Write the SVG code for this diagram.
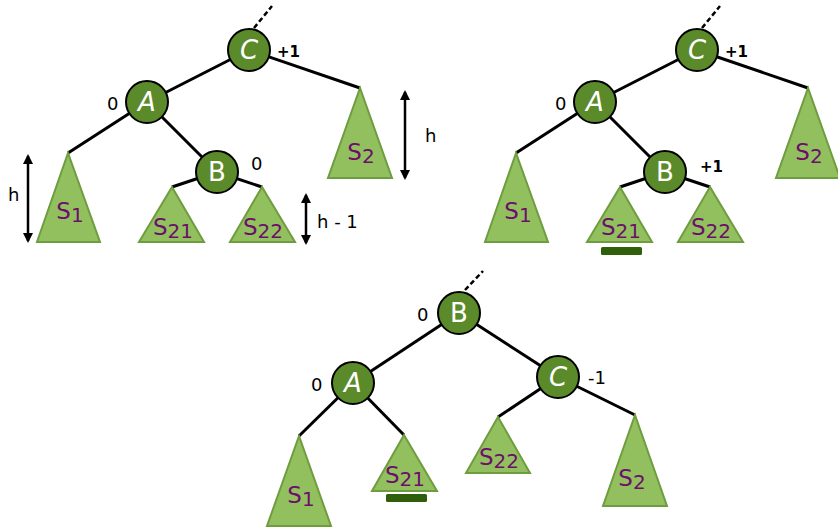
<svg xmlns="http://www.w3.org/2000/svg" width="838" height="527" viewBox="0 0 838 527">
<defs>
<marker id="ah" viewBox="0 0 10 10" refX="8" refY="5" markerWidth="4" markerHeight="4" orient="auto-start-reverse"><path d="M0,0 L10,5 L0,10 z" fill="#000"/></marker>
<style>
.e{stroke:#000;stroke-width:3;fill:none}
.d{stroke:#000;stroke-width:2.5;stroke-dasharray:5,3;fill:none}
.n circle{fill:#5b8a2b;stroke:#000;stroke-width:2}
.n text{fill:#fff;font-family:"DejaVu Sans",sans-serif;font-size:26px;font-style:italic;text-anchor:middle}
.n text.up{font-style:normal}
.t polygon{fill:#93c05e;stroke:#6f9c3f;stroke-width:2}
.t text{fill:#6b0f6b;font-family:"DejaVu Sans",sans-serif;font-size:23px;text-anchor:middle}
.bal{font-family:"DejaVu Sans",sans-serif;font-size:18px;fill:#000}
.bb{font-family:"DejaVu Sans",sans-serif;font-size:15px;font-weight:bold;fill:#000}
.ar{stroke:#000;stroke-width:2.5;marker-start:url(#ah);marker-end:url(#ah)}
.bar{fill:#2f5f0a}
</style>
</defs>
<rect width="838" height="527" fill="#fff"/>
<g id="connectors">
<line class="d" x1="254" y1="28" x2="272" y2="6"/>
<line class="e" x1="249" y1="50" x2="147" y2="102"/>
<line class="e" x1="249" y1="50" x2="360" y2="88"/>
<line class="e" x1="147" y1="102" x2="68" y2="153"/>
<line class="e" x1="147" y1="102" x2="217" y2="172"/>
<line class="e" x1="217" y1="172" x2="172" y2="187"/>
<line class="e" x1="217" y1="172" x2="262" y2="187"/>
<line class="d" x1="702" y1="28" x2="720" y2="6"/>
<line class="e" x1="697" y1="50" x2="595" y2="102"/>
<line class="e" x1="697" y1="50" x2="808" y2="88"/>
<line class="e" x1="595" y1="102" x2="516" y2="153"/>
<line class="e" x1="595" y1="102" x2="665" y2="172"/>
<line class="e" x1="665" y1="172" x2="620" y2="187"/>
<line class="e" x1="665" y1="172" x2="710" y2="187"/>
<line class="d" x1="465" y1="290" x2="483" y2="271"/>
<line class="e" x1="459" y1="313" x2="353" y2="383"/>
<line class="e" x1="459" y1="313" x2="558" y2="377"/>
<line class="e" x1="353" y1="383" x2="299" y2="436"/>
<line class="e" x1="353" y1="383" x2="404" y2="435"/>
<line class="e" x1="558" y1="377" x2="498" y2="417"/>
<line class="e" x1="558" y1="377" x2="635" y2="415"/>
</g>
<g id="tri-S1-a" class="t"><polygon points="68,153 37,242 100,242"/><text x="70" y="219">S<tspan dy="3" font-size="20">1</tspan></text></g>
<g id="tri-S2-a" class="t"><polygon points="360,88 328,178 392,178"/><text x="361" y="160">S<tspan dy="3" font-size="20">2</tspan></text></g>
<g id="tri-S21-a" class="t"><polygon points="172,187 139,242 204,242"/><text x="173" y="235">S<tspan dy="3" font-size="20">21</tspan></text></g>
<g id="tri-S22-a" class="t"><polygon points="262,187 230,242 295,242"/><text x="263" y="235">S<tspan dy="3" font-size="20">22</tspan></text></g>
<g id="node-C-a" class="n"><circle cx="249" cy="50" r="21"/><text x="249" y="59">C</text></g>
<g id="node-A-a" class="n"><circle cx="147" cy="102" r="21"/><text x="147" y="111">A</text></g>
<g id="node-B-a" class="n"><circle cx="217" cy="172" r="21"/><text class="up" x="217" y="181">B</text></g>
<text class="bb" x="277" y="57">+1</text>
<text class="bal" x="107" y="110">0</text>
<text class="bal" x="251" y="170">0</text>
<line class="ar" x1="28" y1="156" x2="28" y2="241"/>
<text class="bal" x="8" y="201">h</text>
<line class="ar" x1="405" y1="92" x2="405" y2="178"/>
<text class="bal" x="425" y="142">h</text>
<line class="ar" x1="306" y1="195" x2="306" y2="243"/>
<text class="bal" x="317" y="228">h - 1</text>

<g id="tri-S1-b" class="t"><polygon points="516,153 485,242 548,242"/><text x="518" y="219">S<tspan dy="3" font-size="20">1</tspan></text></g>
<g id="tri-S2-b" class="t"><polygon points="808,88 776,178 840,178"/><text x="809" y="160">S<tspan dy="3" font-size="20">2</tspan></text></g>
<g id="tri-S21-b" class="t"><polygon points="620,187 587,242 652,242"/><text x="621" y="235">S<tspan dy="3" font-size="20">21</tspan></text></g>
<g id="tri-S22-b" class="t"><polygon points="710,187 678,242 743,242"/><text x="711" y="235">S<tspan dy="3" font-size="20">22</tspan></text></g>
<rect class="bar" x="601" y="247" width="41" height="8" rx="1.5"/>
<g id="node-C-b" class="n"><circle cx="697" cy="50" r="21"/><text x="697" y="59">C</text></g>
<g id="node-A-b" class="n"><circle cx="595" cy="102" r="21"/><text x="595" y="111">A</text></g>
<g id="node-B-b" class="n"><circle cx="665" cy="172" r="21"/><text class="up" x="665" y="181">B</text></g>
<text class="bb" x="725" y="57">+1</text>
<text class="bal" x="555" y="110">0</text>
<text class="bb" x="700" y="172">+1</text>

<g id="tri-S1-c" class="t"><polygon points="299,436 267,526 331,526"/><text x="301" y="503">S<tspan dy="3" font-size="20">1</tspan></text></g>
<g id="tri-S21-c" class="t"><polygon points="404,435 372,491 437,491"/><text x="405" y="483">S<tspan dy="3" font-size="20">21</tspan></text></g>
<g id="tri-S22-c" class="t"><polygon points="498,417 466,473 530,473"/><text x="499" y="465">S<tspan dy="3" font-size="20">22</tspan></text></g>
<g id="tri-S2-c" class="t"><polygon points="635,415 603,506 667,506"/><text x="632" y="486">S<tspan dy="3" font-size="20">2</tspan></text></g>
<rect class="bar" x="386" y="494" width="41" height="8" rx="1.5"/>
<g id="node-B-c" class="n"><circle cx="459" cy="313" r="21"/><text class="up" x="459" y="322">B</text></g>
<g id="node-A-c" class="n"><circle cx="353" cy="383" r="21"/><text x="353" y="392">A</text></g>
<g id="node-C-c" class="n"><circle cx="558" cy="377" r="21"/><text x="558" y="386">C</text></g>
<text class="bal" x="417" y="321">0</text>
<text class="bal" x="311" y="391">0</text>
<text class="bal" x="588" y="384">-1</text>
</svg>
